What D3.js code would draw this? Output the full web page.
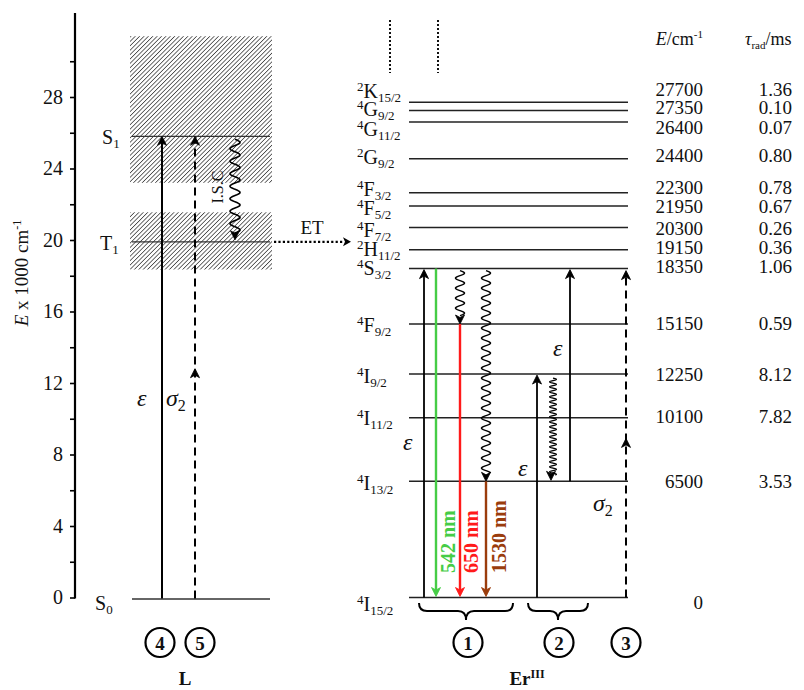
<!DOCTYPE html>
<html><head><meta charset="utf-8">
<script src="https://cdn.jsdelivr.net/npm/d3@7"></script>
<style>
body{margin:0;background:#fff}
svg text{font-family:"Liberation Serif","Times New Roman","DejaVu Serif",serif}
</style>
</head><body>
<svg id="c" width="804" height="690"></svg>
<script>
// ---------------- DATA ----------------
const axisTicks = d3.range(0, 31, 2);            // ×1000 cm-1
const axisLabelTicks = [0, 4, 8, 12, 16, 20, 24, 28];

// Ligand (L) states
const ligNames = ["S", "T", "S"];
const ligSubs = ["0", "1", "1"];
const ligEnergy = [0, 19900, 25800];
const ligBands = [[23200, 31400], [18350, 21550]];   // hatched vibronic bands
const ligSigmaMid = 12800;                            // two-photon half-step

// Er(III) states
const erMult = ["2","4","4","2","4","4","4","2","4","4","4","4","4","4"];
const erTerm = ["K","G","G","G","F","F","F","H","S","F","I","I","I","I"];
const erJ = ["15/2","9/2","11/2","9/2","3/2","5/2","7/2","11/2","3/2","9/2","9/2","11/2","13/2","15/2"];
const erEnergy = ["27700","27350","26400","24400","22300","21950","20300","19150","18350","15150","12250","10100","6500","0"];
const erTau = ["1.36","0.10","0.07","0.80","0.78","0.67","0.26","0.36","1.06","0.59","8.12","7.82","3.53",""];
const erDrawn = [27700, 27250, 26600, 24550, 22650, 21900, 20700, 19450, 18400, 15300, 12500, 10050, 6500, 0];
const erRow = [28400, 27400, 26250, 24700, 22900, 21850, 20600, 19550, 18500, 15300, 12450, 10100, 6450, -300];
const erSigmaMid = 8900;

const emissions = ["542 nm", "650 nm", "1530 nm"];
const emisColors = ["#46cc46", "#ff1a1a", "#9a3c0c"];
const groups = ["1", "2", "3", "4", "5"];

// ---------------- DRAWING ----------------
const svg = d3.select("#c");
const y = d3.scaleLinear().domain([0, 28000]).range([597.5, 97]);
const yk = d3.scaleLinear().domain([0, 28]).range([597.5, 97]);

// hatch pattern
const defs = svg.append("defs");
defs.append("pattern").attr("id", "hatch").attr("patternUnits", "userSpaceOnUse")
  .attr("width", 3.1).attr("height", 3.1).attr("patternTransform", "rotate(45)")
  .append("line").attr("x1", 0).attr("y1", 0).attr("x2", 0).attr("y2", 3.1)
  .attr("stroke", "#444").attr("stroke-width", 1.6);

// axis
const axis = d3.axisLeft(yk).tickValues(axisTicks)
  .tickFormat(d => axisLabelTicks.includes(d) ? d : "")
  .tickSize(5).tickSizeOuter(0).tickPadding(7);
const ag = svg.append("g").attr("transform", "translate(75,0)").call(axis);
ag.select(".domain").remove();
ag.selectAll(".tick line").attr("stroke", "#000").attr("stroke-width", 1.6);
ag.selectAll(".tick text").attr("font-size", 20).attr("fill", "#111");
ag.append("line").attr("x1", 0).attr("x2", 0).attr("y1", yk(0) + 1).attr("y2", 13)
  .attr("stroke", "#000").attr("stroke-width", 2.2);

// axis label
const al = svg.append("text").attr("transform", "translate(28,273) rotate(-90)")
  .attr("text-anchor", "middle").attr("font-size", 19).attr("fill", "#111");
al.append("tspan").attr("font-style", "italic").text("E");
al.append("tspan").text(" x 1000 cm");
al.append("tspan").attr("font-size", 12).attr("dy", -7).text("-1");

// helper: arrowheads
function head(x, yy, dir, color) {
  const s = dir === "up" ? 1 : -1;
  svg.append("path")
    .attr("d", `M${x},${yy} L${x - 4.5},${yy + s * 9} L${x},${yy + s * 6.5} L${x + 4.5},${yy + s * 9} Z`)
    .attr("fill", color).attr("stroke", color).attr("stroke-width", 0.8).attr("stroke-linejoin", "miter");
}
function vline(x, y1, y2, color, w, dash) {
  const l = svg.append("line").attr("x1", x).attr("x2", x).attr("y1", y1).attr("y2", y2)
    .attr("stroke", color).attr("stroke-width", w);
  if (dash) l.attr("stroke-dasharray", dash);
  return l;
}
function wavy(x, y1, y2, amp, period, w) {
  const pts = [];
  for (let t = y1; t <= y2; t += 0.5) pts.push([x + amp * Math.sin(2 * Math.PI * (t - y1) / period), t]);
  svg.append("path").attr("d", d3.line()(pts)).attr("fill", "none").attr("stroke", "#000").attr("stroke-width", w);
}

// ---------------- Ligand panel ----------------
svg.selectAll("rect.band").data(ligBands).join("rect").attr("class", "band")
  .attr("x", 130).attr("width", 142)
  .attr("y", d => y(d[1])).attr("height", d => y(d[0]) - y(d[1]))
  .attr("fill", "url(#hatch)");

svg.selectAll("line.lig").data(ligEnergy).join("line").attr("class", "lig")
  .attr("x1", 132).attr("x2", 270).attr("y1", d => y(d) + (d === 0 ? 1.5 : 0)).attr("y2", d => y(d) + (d === 0 ? 1.5 : 0))
  .attr("stroke", "#333").attr("stroke-width", 1.3);

ligNames.forEach((n, i) => {
  const e = ligEnergy[i];
  const xs = [95, 100, 102][i];
  const t = svg.append("text").attr("x", xs).attr("y", y(e) + [12, 8, 8][i]).attr("font-size", 20).attr("fill", "#111");
  t.append("tspan").text(n);
  t.append("tspan").attr("font-size", 13).attr("dy", 4).text(ligSubs[i]);
});

// solid epsilon arrow (4)
vline(162, y(0) + 1, y(ligEnergy[2]) + 5, "#000", 2);
head(162, y(ligEnergy[2]), "up", "#000");
// dashed sigma2 arrow (5)
vline(195, y(0) + 1, y(ligEnergy[2]) + 5, "#000", 2, "8,5");
head(195, y(ligSigmaMid), "up", "#000");
head(195, y(ligEnergy[2]), "up", "#000");
// ISC
wavy(235, y(ligEnergy[2]) + 3, y(ligEnergy[1]) - 8, 5, 12.5, 1.6);
head(235, y(ligEnergy[1]) - 2, "down", "#000");
svg.append("text").attr("transform", `translate(223,${(y(ligEnergy[2]) + y(ligEnergy[1])) / 2 - 2}) rotate(-90)`)
  .attr("text-anchor", "middle").attr("font-size", 16).attr("fill", "#111").text("I.S.C");

// greek labels
function greek(x, yy, sym, sub) {
  const t = svg.append("text").attr("x", x).attr("y", yy).attr("font-size", 24).attr("font-style", "italic").attr("fill", "#111");
  t.append("tspan").text(sym);
  if (sub) t.append("tspan").attr("font-style", "normal").attr("font-size", 16).attr("dy", 5).text(sub);
}
greek(137, 406, "ε");
greek(166, 406, "σ", "2");

// ET
svg.append("line").attr("x1", 274).attr("x2", 344).attr("y1", y(ligEnergy[1])).attr("y2", y(ligEnergy[1]))
  .attr("stroke", "#000").attr("stroke-width", 2.2).attr("stroke-dasharray", "2.2,2.2");
svg.append("path").attr("d", `M351,${y(ligEnergy[1])} l-8,-4.5 l2,4.5 l-2,4.5 Z`).attr("fill", "#000");
svg.append("text").attr("x", 312).attr("y", 234).attr("text-anchor", "middle").attr("font-size", 19).attr("fill", "#111").text("ET");

// ---------------- Er panel ----------------
const X1 = 409, X2 = 628;
svg.selectAll("line.er").data(erDrawn).join("line").attr("class", "er")
  .attr("x1", X1).attr("x2", X2).attr("y1", d => y(d)).attr("y2", d => y(d))
  .attr("stroke", "#222").attr("stroke-width", 1.5);

// dotted continuation lines at top
[390, 438].forEach(x => vline(x, 20, 73, "#111", 2, "2,2"));

// term labels
erTerm.forEach((tm, i) => {
  const t = svg.append("text").attr("x", 357).attr("y", y(erRow[i]) + 8).attr("font-size", 20).attr("fill", "#111");
  t.append("tspan").attr("font-size", 13).attr("dy", -7).text(erMult[i]);
  t.append("tspan").attr("dy", 7).text(tm);
  t.append("tspan").attr("font-size", 13).attr("dy", 4).text(erJ[i]);
});

// table
svg.append("text").attr("x", 703).attr("y", 45).attr("text-anchor", "end").attr("font-size", 18).attr("fill", "#111")
  .call(t => { t.append("tspan").attr("font-style", "italic").text("E"); t.append("tspan").text("/cm"); t.append("tspan").attr("font-size", 11).attr("dy", -7).text("-1"); });
svg.append("text").attr("x", 745).attr("y", 45).attr("font-size", 18).attr("fill", "#111")
  .call(t => { t.append("tspan").attr("font-style", "italic").text("τ"); t.append("tspan").attr("font-size", 11).attr("dy", 4).text("rad"); t.append("tspan").attr("dy", -4).text("/ms"); });
svg.selectAll("text.en").data(erEnergy).join("text").attr("class", "en")
  .attr("x", 703).attr("y", (d, i) => y(erRow[i]) + 6).attr("text-anchor", "end")
  .attr("font-size", 19).attr("fill", "#111").text(d => d);
svg.selectAll("text.tau").data(erTau).join("text").attr("class", "tau")
  .attr("x", 792).attr("y", (d, i) => y(erRow[i]) + 6).attr("text-anchor", "end")
  .attr("font-size", 19).attr("fill", "#111").text(d => d);

const L = erDrawn; // indices: 8 = 4S3/2, 9 = 4F9/2, 10 = 4I9/2, 12 = 4I13/2, 13 = ground
// (1) absorption 0 -> 4S3/2
vline(424, y(L[13]), y(L[8]) + 5, "#000", 1.8);
head(424, y(L[8]) + 1, "up", "#000");
greek(403, 450, "ε");
// green emission
vline(436, y(L[8]), y(L[13]) - 6, emisColors[0], 2.4);
head(436, y(L[13]) - 1, "down", emisColors[0]);
// wavy to 4F9/2 then red
wavy(460, y(L[8]) + 2, y(L[9]) - 8, 4.5, 10, 1.5);
head(460, y(L[9]), "down", "#000");
vline(460, y(L[9]), y(L[13]) - 6, emisColors[1], 2.4);
head(460, y(L[13]) - 1, "down", emisColors[1]);
// wavy to 4I13/2 then brown
wavy(486, y(L[8]) + 2, y(L[12]) - 8, 4.5, 10, 1.5);
head(486, y(L[12]), "down", "#000");
vline(486, y(L[12]), y(L[13]) - 6, emisColors[2], 2.4);
head(486, y(L[13]) - 1, "down", emisColors[2]);
// emission labels
[455, 478, 506].forEach((bx, i) => {
  svg.append("text").attr("transform", `translate(${bx},573) rotate(-90)`)
    .attr("font-size", 20).attr("font-weight", "bold").attr("fill", emisColors[i]).text(emissions[i]);
});
// (2) absorption 0 -> 4I9/2, relaxation, ESA 4I13/2 -> 4S3/2
vline(537, y(L[13]), y(L[10]) + 5, "#000", 1.8);
head(537, y(L[10]) + 1, "up", "#000");
greek(518, 476, "ε");
wavy(553, y(L[10]) + 4, y(L[12]) - 6, 3.5, 5, 1.2);
head(551, y(L[12]) - 1, "down", "#000");
vline(570, y(L[12]), y(L[8]) + 5, "#000", 1.8);
head(570, y(L[8]) + 1, "up", "#000");
greek(553, 356, "ε");
// (3) two-photon dashed
vline(626, y(L[13]), y(L[8]) + 5, "#000", 2, "8,5");
head(626, y(erSigmaMid), "up", "#000");
head(626, y(L[8]) + 2, "up", "#000");
greek(593, 511, "σ", "2");

// braces
function brace(x1, x2, top) {
  const xm = (x1 + x2) / 2, h = 8;
  const d = `M${x1},${top} q0,${h} ${h},${h} L${xm - h},${top + h} q${h},0 ${h},${h + 1} q0,${-h - 1} ${h},${-h - 1} L${x2 - h},${top + h} q${h},0 ${h},${-h}`;
  svg.append("path").attr("d", d).attr("fill", "none").attr("stroke", "#000").attr("stroke-width", 2);
}
brace(419, 513, 603);
brace(528, 588, 603);

// circled numbers
const circX = [468, 559, 626, 160, 200];
groups.forEach((g, i) => {
  svg.append("circle").attr("cx", circX[i]).attr("cy", 642.5).attr("r", 14.5)
    .attr("fill", "none").attr("stroke", "#000").attr("stroke-width", 2.2);
  svg.append("text").attr("x", circX[i]).attr("y", 649.5).attr("text-anchor", "middle")
    .attr("font-size", 19).attr("font-weight", "bold").attr("fill", "#111").text(g);
});

// panel titles
svg.append("text").attr("x", 185).attr("y", 685).attr("text-anchor", "middle").attr("font-size", 19).attr("font-weight", "bold").attr("fill", "#111").text("L");
svg.append("text").attr("x", 527).attr("y", 685).attr("text-anchor", "middle").attr("font-size", 19).attr("font-weight", "bold").attr("fill", "#111")
  .call(t => { t.append("tspan").text("Er"); t.append("tspan").attr("font-size", 12).attr("dy", -7).text("III"); });
</script>
</body></html>
